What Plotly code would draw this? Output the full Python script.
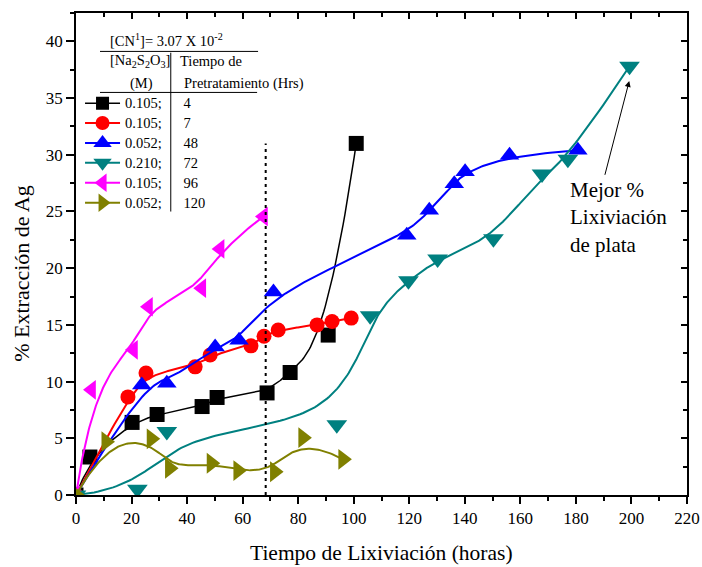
import numpy as np
import plotly.graph_objects as go

# ---------------- data ----------------
black_x = [0, 5.0, 20.2, 29.2, 45.4, 50.8, 68.8, 77.1, 90.8, 100.9]
black_y = [0, 3.35, 6.4, 7.1, 7.8, 8.6, 9.0, 10.8, 14.1, 31.0]

red_x = [0, 18.7, 25.2, 42.9, 48.3, 63.0, 67.7, 72.8, 86.8, 92.2, 99.1]
red_y = [0, 8.65, 10.75, 11.3, 12.35, 13.15, 14.0, 14.55, 15.0, 15.3, 15.6]

blue_x = [0, 23.7, 32.7, 50.1, 58.7, 71.1, 119.1, 127.2, 136.2, 140.1, 156.1, 180.7]
blue_y = [0, 9.7, 9.85, 13.05, 13.65, 17.9, 22.9, 25.1, 27.45, 28.5, 29.95, 30.4]

teal_x = [0, 22.1, 32.7, 93.9, 105.9, 119.7, 130.2, 150.3, 167.8, 177.1, 199.3]
teal_y = [0, 0.5, 5.6, 6.2, 15.8, 18.9, 20.8, 22.6, 28.3, 29.6, 37.8]

magenta_x = [0, 5.6, 20.7, 26.1, 45.3, 51.9, 67.5]
magenta_y = [0, 9.27, 12.8, 16.6, 18.24, 21.7, 24.56]

olive_x = [0, 10.8, 27.1, 33.7, 48.7, 58.3, 71.5, 81.7, 96.1]
olive_y = [0, 4.7, 4.95, 2.35, 2.8, 2.15, 2.05, 5.05, 3.15]

conc_labels = ["0.105;", "0.105;", "0.052;", "0.210;", "0.105;", "0.052;"]
time_labels = ["4", "7", "48", "72", "96", "120"]

vline_x = [68.3, 68.3]
vline_y = [0, 31.0]

x_ticks = list(range(0, 221, 20))
y_ticks = list(range(0, 41, 5))

FONT = "Liberation Serif, Times New Roman, serif"


def bspline(xs, ys, n=300, k=3):
    """Clamped uniform B-spline using the data points as control points."""
    P = np.column_stack([xs, ys]).astype(float)
    m = len(P)
    k = min(k, m - 1)
    span = m - k
    knots = np.concatenate([np.zeros(k + 1), np.arange(1, span), np.full(k + 1, span)])
    t = np.linspace(0, span, n)
    nb = len(knots) - 1
    N = np.zeros((n, nb))
    for i in range(nb):
        N[:, i] = (knots[i] <= t) & (t < knots[i + 1])
    last = np.where(knots[:-1] < knots[1:])[0][-1]
    end = t >= knots[-1]
    N[end, :] = 0
    N[end, last] = 1
    for p in range(1, k + 1):
        Nn = np.zeros((n, nb - p))
        for i in range(nb - p):
            d1 = knots[i + p] - knots[i]
            d2 = knots[i + p + 1] - knots[i + 1]
            a = (t - knots[i]) / d1 * N[:, i] if d1 > 0 else 0
            b = (knots[i + p + 1] - t) / d2 * N[:, i + 1] if d2 > 0 else 0
            Nn[:, i] = a + b
        N = Nn
    C = N @ P
    return C[:, 0], C[:, 1]


# (x, y, colour, symbol, marker size, line width, legend marker size)
series = [
    (black_x, black_y, "#000000", "square", 15, 1.5, 13),
    (red_x, red_y, "#FF0000", "circle", 15, 2, 14),
    (blue_x, blue_y, "#0000FF", "triangle-up", 17, 2, 16),
    (teal_x, teal_y, "#008080", "triangle-down", 18, 2, 16),
    (magenta_x, magenta_y, "#FF00FF", "triangle-left", 17, 2, 16),
    (olive_x, olive_y, "#808000", "triangle-right", 18, 2, 16),
]

fig = go.Figure()

for idx, (xs, ys, col, sym, sz, lw, lsz) in enumerate(series):
    cx, cy = bspline(xs, ys)
    fig.add_trace(go.Scatter(x=cx, y=cy, mode="lines", line=dict(color=col, width=lw),
                             showlegend=False, hoverinfo="skip", legendgroup=str(idx)))
    fig.add_trace(go.Scatter(x=xs, y=ys, mode="markers",
                             marker=dict(symbol=sym, size=sz, color=col, line=dict(width=0)),
                             showlegend=False, legendgroup=str(idx)))

# legend entries (line + marker sample)
nb = "\u00a0" * 6
for idx, (xs, ys, col, sym, sz, lw, lsz) in enumerate(series):
    name = '<span style="font-size:14.5px">' + conc_labels[idx] + nb + time_labels[idx] + "</span>"
    fig.add_trace(go.Scatter(x=[None], y=[None], mode="lines+markers", name=name,
                             line=dict(color=col, width=lw),
                             marker=dict(symbol=sym, size=lsz, color=col, line=dict(width=0)),
                             legendgroup=str(idx)))

# vertical dotted line (on overlay axes that carry the inner top/right ticks)
fig.add_trace(go.Scatter(x=vline_x, y=vline_y, mode="lines", xaxis="x2", yaxis="y2",
                         line=dict(color="black", width=2, dash="3px,4px"),
                         showlegend=False, hoverinfo="skip"))

axis_common = dict(showgrid=False, zeroline=False, linecolor="black",
                   tickcolor="black", tickwidth=1.5)

fig.update_layout(
    width=702, height=567,
    margin=dict(l=76, r=15.3, t=13.3, b=72),
    paper_bgcolor="white", plot_bgcolor="white",
    font=dict(family=FONT, color="black"),
    xaxis=dict(range=[0, 220], tickvals=x_ticks, ticks="outside", ticklen=7,
               minor=dict(dtick=10, tick0=0, ticks="outside", ticklen=4, tickwidth=1.5, tickcolor="black"),
               showline=True, mirror=True, linewidth=1.5, automargin=False,
               tickfont=dict(size=17, family=FONT), **axis_common),
    yaxis=dict(range=[0, 42.5], tickvals=y_ticks, ticks="outside", ticklen=8,
               minor=dict(dtick=2.5, tick0=0, ticks="outside", ticklen=4, tickwidth=1.5, tickcolor="black"),
               showline=True, mirror=True, linewidth=1.5, automargin=False,
               tickfont=dict(size=17, family=FONT), **axis_common),
    xaxis2=dict(range=[0, 220], overlaying="x", side="top", anchor="y2", tickvals=x_ticks,
                ticks="inside", ticklen=6, showticklabels=False, showline=False, automargin=False,
                minor=dict(dtick=10, tick0=0, ticks="inside", ticklen=4, tickwidth=1.5, tickcolor="black"),
                **axis_common),
    yaxis2=dict(range=[0, 42.5], overlaying="y", side="right", anchor="x2", tickvals=y_ticks,
                ticks="inside", ticklen=6, showticklabels=False, showline=False, automargin=False,
                minor=dict(dtick=2.5, tick0=0, ticks="inside", ticklen=4, tickwidth=1.5, tickcolor="black"),
                **axis_common),
    legend=dict(x=0.0066, y=0.844, xanchor="left", yanchor="top", bgcolor="rgba(0,0,0,0)",
                borderwidth=0, font=dict(size=13, family=FONT, color="black"),
                itemwidth=35, tracegroupgap=0, traceorder="normal", itemclick=False),
    showlegend=True,
)

ann = []
# axis titles
ann.append(dict(text="Tiempo de Lixiviación (horas)", x=0.5, y=-0.12, xref="paper", yref="paper",
                xanchor="center", yanchor="middle", showarrow=False, font=dict(size=21.5, family=FONT)))
ann.append(dict(text="% Extracción de Ag", x=-0.0884, y=0.461, xref="paper", yref="paper",
                xanchor="center", yanchor="middle", textangle=-90, showarrow=False,
                font=dict(size=22, family=FONT)))
# legend header
hdr_font = dict(size=14.5, family=FONT, color="black")
ann.append(dict(text="[CN<sup>1</sup>]= 3.07 X 10<sup>-2</sup>", x=0.0524, y=0.9446, xref="paper", yref="paper",
                xanchor="left", yanchor="middle", showarrow=False, font=hdr_font))
ann.append(dict(text="[Na<sub>2</sub>S<sub>2</sub>O<sub>3</sub>]", x=0.0529, y=0.8995, xref="paper", yref="paper",
                xanchor="left", yanchor="middle", showarrow=False, font=hdr_font))
ann.append(dict(text="Tiempo de", x=0.1675, y=0.8995, xref="paper", yref="paper",
                xanchor="left", yanchor="middle", showarrow=False, font=hdr_font))
ann.append(dict(text="(M)", x=0.1076, y=0.8532, xref="paper", yref="paper",
                xanchor="center", yanchor="middle", showarrow=False, font=hdr_font))
ann.append(dict(text="Pretratamiento (Hrs)", x=0.1731, y=0.8532, xref="paper", yref="paper",
                xanchor="left", yanchor="middle", showarrow=False, font=hdr_font))
# note + arrow
ann.append(dict(text="Mejor %<br>Lixiviación<br>de plata", x=177.3, y=24.45, xref="x", yref="y",
                xanchor="left", yanchor="middle", align="left", showarrow=False,
                font=dict(size=21, family=FONT)))
ann.append(dict(text="", x=199.2, y=36.5, xref="x", yref="y", ax=190.3, ay=28.1, axref="x", ayref="y",
                showarrow=True, arrowhead=2, arrowsize=1.2, arrowwidth=1, arrowcolor="black", standoff=0))
fig.update_layout(annotations=ann)

shapes = [
    dict(type="line", xref="paper", yref="paper", x0=0.0393, x1=0.298, y0=0.9203, y1=0.9203,
         line=dict(color="black", width=1)),
    dict(type="line", xref="paper", yref="paper", x0=0.0393, x1=0.2964, y0=0.8352, y1=0.8352,
         line=dict(color="black", width=1)),
    dict(type="line", xref="paper", yref="paper", x0=0.1551, x1=0.1551, y0=0.9176, y1=0.5881,
         line=dict(color="black", width=1)),
]
fig.update_layout(shapes=shapes)

# remove the default page margin so the 702x567 figure fills the window exactly
fig.write_html("out.html",
               config={"displayModeBar": False},
               post_script="document.body.style.margin='0';document.body.style.overflow='hidden';")
